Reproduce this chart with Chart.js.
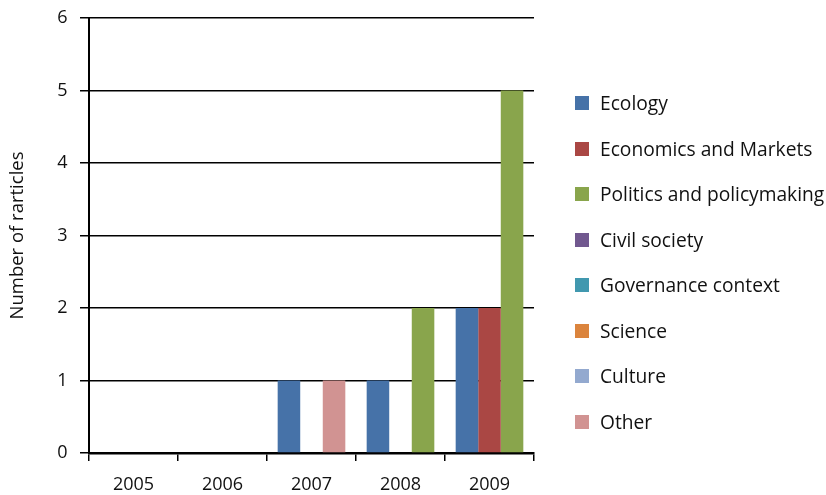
<!DOCTYPE html>
<html>
<head>
<meta charset="utf-8">
<title>Number of articles by year</title>
<script src="https://cdn.jsdelivr.net/npm/chart.js@4.4.1/dist/chart.umd.min.js"></script>
<style>
  html, body { margin: 0; padding: 0; background: #fff; }
  #wrap { position: relative; width: 826px; height: 495px; font-family: 'Open Sans', sans-serif; }
  #legend { position: absolute; left: 575px; top: 0; margin: 0; padding: 0; list-style: none; }
  #legend li { position: absolute; left: 0; white-space: nowrap; height: 22px; line-height: 22px;
    font-size: 19.2px; color: #111; }
  #legend .swatch { position: absolute; left: 0; top: 4px; width: 14px; height: 14px; }
  #legend .txt { position: absolute; left: 25px; top: 0; }
</style>
</head>
<body>
<div id="wrap">
  <canvas id="chart" width="826" height="495"></canvas>
  <ul id="legend"></ul>
</div>
<script>
// 연도별 주제 분류 기사 수 (막대 그룹)
const years = ["2005", "2006", "2007", "2008", "2009"];

const ecology    = [0, 0, 1, 1, 2];
const economics  = [0, 0, 0, 0, 2];
const politics   = [0, 0, 0, 2, 5];
const civil      = [0, 0, 0, 0, 0];
const governance = [0, 0, 0, 0, 0];
const science    = [0, 0, 0, 0, 0];
const culture    = [0, 0, 0, 0, 0];
const other      = [0, 0, 1, 0, 0];

const yTicks = [0, 1, 2, 3, 4, 5, 6];

// 범례 순서 그대로 (빈 시리즈는 세 번째 칸을 공유)
const SERIES = [
  { label: "Ecology",                   data: ecology,    color: "#4672A8", stack: "a" },
  { label: "Economics and Markets",     data: economics,  color: "#AA4744", stack: "b" },
  { label: "Politics and policymaking", data: politics,   color: "#89A54C", stack: "c" },
  { label: "Civil society",             data: civil,      color: "#71588F", stack: "c" },
  { label: "Governance context",        data: governance, color: "#4198AF", stack: "c" },
  { label: "Science",                   data: science,    color: "#DB843D", stack: "c" },
  { label: "Culture",                   data: culture,    color: "#93A9CF", stack: "c" },
  { label: "Other",                     data: other,      color: "#D19392", stack: "c" },
];

const FONT = "'Open Sans', 'Noto Sans', sans-serif";

// HTML 범례 — 차트가 만든 항목으로 그림
const htmlLegend = {
  id: "htmlLegend",
  afterUpdate(chart) {
    const ul = document.getElementById("legend");
    ul.innerHTML = "";
    const items = chart.options.plugins.legend.labels.generateLabels(chart);
    items.forEach((item, i) => {
      const li = document.createElement("li");
      li.style.top = (92 + i * 45.5) + "px";
      const sw = document.createElement("span");
      sw.className = "swatch";
      sw.style.background = item.fillStyle;
      const tx = document.createElement("span");
      tx.className = "txt";
      tx.textContent = item.text;
      li.appendChild(sw);
      li.appendChild(tx);
      ul.appendChild(li);
    });
  },
};

function build() {
  Chart.defaults.font.family = FONT;
  Chart.defaults.color = "#111";

  new Chart(document.getElementById("chart"), {
    type: "bar",
    data: {
      labels: years,
      datasets: SERIES.map((s) => ({
        label: s.label,
        data: s.data,
        stack: s.stack,
        backgroundColor: s.color,
        borderWidth: 0,
        categoryPercentage: 0.76,
        barPercentage: 1.0,
      })),
    },
    plugins: [htmlLegend],
    options: {
      responsive: false,
      animation: false,
      // 오른쪽은 범례 자리, 아래는 눈금 글자 위치 맞춤
      layout: { padding: { top: 18, right: 292, bottom: -14.4, left: 0 } },
      plugins: {
        tooltip: { enabled: false },
        legend: { display: false },
      },
      scales: {
        x: {
          grid: {
            display: true,
            drawOnChartArea: false,
            drawTicks: true,
            tickLength: 8,
            color: "#000",
            lineWidth: 1.5,
          },
          border: { display: true, color: "#000", width: 2.5 },
          ticks: { color: "#111", font: { size: 18 }, padding: 13.4 },
        },
        y: {
          min: 0,
          max: 6,
          afterBuildTicks: (s) => { s.ticks = yTicks.map((v) => ({ value: v })); },
          grid: {
            color: "#000",
            lineWidth: 1.5,
            drawTicks: true,
            tickLength: 9,
          },
          border: { display: true, color: "#000", width: 2 },
          // lineHeight를 줄여 위쪽 여백이 눈금 글자 때문에 늘지 않게 함
          ticks: { color: "#111", font: { size: 18, lineHeight: 0.6 }, padding: 12.5 },
          title: {
            display: true,
            text: "Number of rarticles",
            color: "#111",
            font: { size: 18.5 },
            padding: { top: 7, bottom: 15.5 },
          },
        },
      },
    },
  });
}

if (document.fonts && document.fonts.load) {
  Promise.all([
    document.fonts.load("18px 'Open Sans'"),
    document.fonts.load("19px 'Open Sans'"),
  ]).then(build, build);
} else {
  build();
}
</script>
</body>
</html>
